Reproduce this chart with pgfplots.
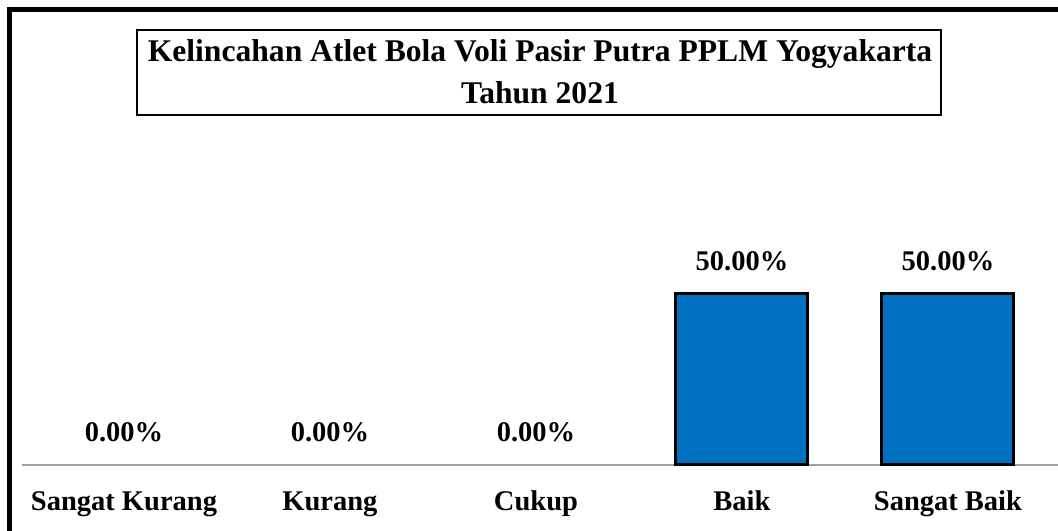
\documentclass[border=0pt]{standalone}
\usepackage{pgfplots}
\pgfplotsset{compat=1.18}
\usepackage{pgfplotstable}
\usepackage{fontspec}
\setmainfont{Liberation Serif}

\definecolor{barblue}{HTML}{0070C0}
\definecolor{axisgray}{HTML}{A0A0A0}

\pgfplotstableread{
x y
0 0
1 0
2 0
3 50
4 50
}\kelincahan

\newcommand{\lbl}{\bfseries\fontsize{28.5bp}{34bp}\selectfont}

\begin{document}
\begin{tikzpicture}
\useasboundingbox (0,0) rectangle (1058bp,531bp);
% frame (only left and top are in view)
\draw[line width=5bp] (9.5bp,0) -- (9.5bp,521bp) -- (1058bp,521bp);
% title box
\draw[line width=2bp] (137bp,416bp) rectangle (941bp,501bp);
\node[anchor=base, inner sep=0pt, font=\bfseries\fontsize{31.6bp}{36bp}\selectfont]
  at (540bp,469bp) {Kelincahan Atlet Bola Voli Pasir Putra PPLM Yogyakarta};
\node[anchor=base, inner sep=0pt, font=\bfseries\fontsize{31.6bp}{36bp}\selectfont]
  at (540bp,427bp) {Tahun 2021};

\begin{axis}[
    at={(22bp,66bp)}, anchor=south west,
    scale only axis,
    width=1036bp, height=343bp,
    xmin=-0.495, xmax=4.534,
    ymin=0, ymax=100,
    enlargelimits=false,
    clip=false,
    hide y axis,
    axis x line*=bottom,
    x axis line style={draw=axisgray, line width=2bp, -},
    xtick={0,1,2,3,4},
    xticklabels={Sangat Kurang, Kurang, Cukup, Baik, Sangat Baik},
    major tick length=0pt,
    xticklabel style={anchor=base, yshift=-45bp, font=\lbl},
    ybar,
    bar width=132bp,
]
% bars (zero bars left out, as in the reference)
\addplot[bar shift=0pt, fill=barblue, draw=black, line width=3bp,
    y filter/.expression={y==0 ? nan : y}] table[x=x, y=y] {\kelincahan};
% value labels
\addplot[bar shift=0pt, draw=none, fill=none,
    nodes near coords={\pgfmathprintnumber[fixed,fixed zerofill,precision=2,assume math mode=true]{\pgfplotspointmeta}\%},
    every node near coord/.append style={anchor=base, yshift=23bp, font=\lbl, text=black}]
    table[x=x, y=y] {\kelincahan};
\end{axis}
\end{tikzpicture}
\end{document}
